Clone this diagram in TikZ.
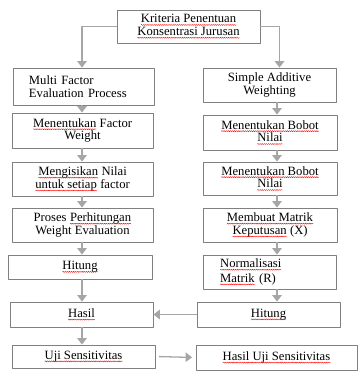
\documentclass[tikz,border=0pt]{standalone}
\usepackage{fontspec}
\setmainfont{Liberation Serif}
\usepackage{tikz}
\usetikzlibrary{arrows.meta,calc,decorations.pathmorphing}
\definecolor{boxc}{RGB}{128,128,128}
\definecolor{arrc}{RGB}{166,166,166}
\newcommand\spl[1]{\tikz[baseline=(w.base)]{\node[draw=none,inner sep=0pt,outer sep=0pt,minimum width=0pt,minimum height=0pt,text width=] (w) {#1};
  \draw[red,line width=0.35pt,decorate,decoration={snake,amplitude=0.45pt,segment length=1.8pt}] ([yshift=-1.8pt]w.base west) -- ([yshift=-1.8pt]w.base east);}}

\begin{document}
\begin{tikzpicture}[x=0.03cm,y=-0.03cm,line join=round,font=\fontsize{10.8}{11}\selectfont,
  box/.style={draw=boxc,line width=0.7pt,align=center,inner sep=1pt},
  arr/.style={draw=arrc,line width=1.1pt,-{Triangle[width=8pt,length=5.5pt]},arrc}]
  \useasboundingbox (0,0) rectangle (358,371);
  \coordinate (cl) at (82,0); \coordinate (cr) at (277,0);
  \node[box,minimum width=4.29cm,minimum height=0.99cm] (krit) at (188.5,26.5) {\spl{Kriteria Penentuan}\\\spl{Konsentrasi Jurusan}};
  % left column
  \node[box,minimum height=1.11cm,text width=3.27cm,inner xsep=0.48cm,align=left] (mfep) at (83.5,86.5) {Multi Factor\\Evaluation Process};
  \node[box,minimum width=4.23cm,minimum height=1.05cm] (bobotf) at (82.5,130.5) {\spl{Menentukan} Factor\\Weight};
  \node[box,minimum width=4.23cm,minimum height=1.02cm] (isi) at (82.5,179) {\spl{Mengisikan} Nilai\\\spl{untuk setiap} factor};
  \node[box,minimum width=4.23cm,minimum height=1.02cm] (proses) at (82.5,225) {Proses \spl{Perhitungan}\\Weight Evaluation};
  \node[box,minimum width=4.32cm,minimum height=0.72cm] (hitungL) at (80,267) {\spl{Hitung}};
  \node[box,minimum width=4.29cm,minimum height=0.75cm] (hasil) at (81.5,314.5) {\spl{Hasil}};
  \node[box,minimum width=4.29cm,minimum height=0.69cm] (uji) at (83.5,356.5) {\spl{Uji Sensitivitas}};
  % right column
  \node[box,minimum width=3.99cm,minimum height=1.02cm] (saw) at (269.5,85) {Simple Additive\\Weighting};
  \node[box,minimum width=4.02cm,minimum height=1.05cm] (bobot1) at (270,132.5) {\spl{Menentukan Bobot}\\\spl{Nilai}};
  \node[box,minimum width=4.02cm,minimum height=0.99cm] (bobot2) at (270,178.5) {\spl{Menentukan Bobot}\\\spl{Nilai}};
  \node[box,minimum width=4.02cm,minimum height=1.02cm] (matrik) at (270,225) {\spl{Membuat Matrik}\\\spl{Keputusan} (X)};
  \node[box,minimum height=1.02cm,text width=2.97cm,inner xsep=0.51cm,align=left,font=\fontsize{10.8}{12.5}\selectfont] (norm) at (269.5,272) {\spl{Normalisasi}\\\spl{Matrik} (R)};
  \node[box,minimum width=4.29cm,minimum height=0.75cm] (hitungR) at (268.5,314.5) {\spl{Hitung}};
  \node[box,minimum width=4.83cm,minimum height=0.75cm] (hasiluji) at (276.5,357.5) {\spl{Hasil Uji Sensitivitas}};
  % arrows
  \draw[arr] (krit.west) -| (mfep.north -| cl);
  \draw[arr] (krit.east) -| ($(saw.north)+(10,0)$);
  \foreach \a/\b in {mfep/bobotf,bobotf/isi,isi/proses,proses/hitungL,hitungL/hasil,hasil/uji}
    \draw[arr] (\a.south -| cl) -- (\b.north -| cl);
  \foreach \a/\b in {saw/bobot1,bobot1/bobot2,bobot2/matrik,matrik/norm,norm/hitungR}
    \draw[arr] (\a.south -| cr) -- (\b.north -| cr);
  \draw[arr] (hitungR.west) -- (hasil.east);
  \draw[arr,shorten <=3pt,shorten >=3pt] (uji.east) -- (hasiluji.west);
\end{tikzpicture}
\end{document}
